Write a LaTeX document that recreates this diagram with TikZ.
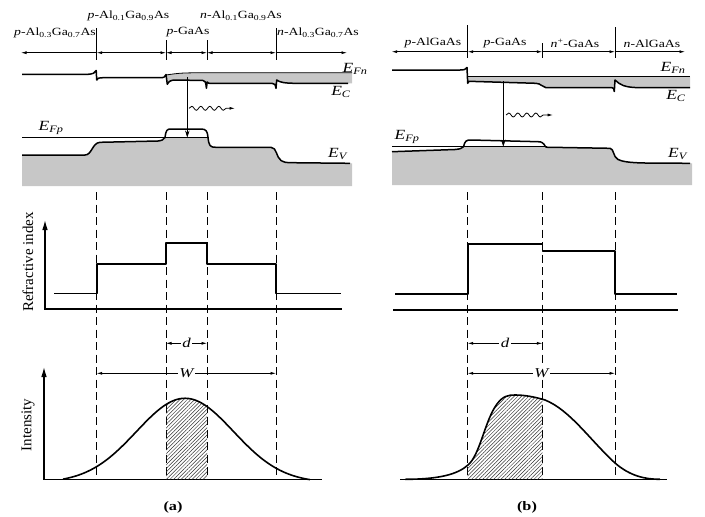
\documentclass[tikz,border=0pt]{standalone}
\usepackage{fontspec}
\setmainfont{Liberation Serif}[FakeStretch=1.25]
\newfontfamily\axisfont{Liberation Serif}
\usetikzlibrary{arrows.meta,decorations.pathmorphing,patterns.meta}
\definecolor{bandgray}{gray}{0.78}

% band edges and profiles, picture units (y runs downwards)
\newcommand{\ecA}{-- (167.3,84.3) .. controls (169,81) and (171,80) .. (176,80) -- (203,80.5) .. controls (205.5,81) .. (206.4,88.3) -- (207.2,82) .. controls (208,83.3) .. (212,83.3) -- (272,83.3) .. controls (275,84) .. (276,88.3) -- (276.7,80) .. controls (280,82.5) and (285,83.3) .. (297,83.3) -- (348,83.3)}
\newcommand{\bumpA}{.. controls (166,130) and (167,129) .. (171,129) -- (201,129) .. controls (206,129) and (207.5,131) .. (208,137.5)}
\newcommand{\evA}{(22,155) -- (85,155) .. controls (92,155) and (92,143) .. (100,142.3) -- (158,141) .. controls (162,140.5) and (163,140) .. (165,137.5) \bumpA .. controls (209,146) and (210,147.3) .. (216,147.3) -- (271,147.3) .. controls (277,147.5) and (276,157) .. (281,160.5) .. controls (285,162.5) .. (292,162.7) -- (350,163.3)}
\newcommand{\ecB}{-- (536,83.3) .. controls (541,83.5) and (542,87) .. (546,87.7) -- (612,87.7) .. controls (613.5,88) .. (614.3,91.5) -- (615,80) .. controls (620,85) and (625,87) .. (635,87.5) -- (690,87.7)}
\newcommand{\bumpB}{.. controls (465,141) and (466,140) .. (471,140) -- (538,141.7) .. controls (542,141.7) and (543.5,143) .. (545.5,146.7)}
\newcommand{\evB}{(392,151.7) -- (455,149.5) .. controls (460,149) and (462,148.5) .. (463.5,146.7) \bumpB .. controls (546.5,147.3) .. (551,147.3) -- (610,148.3) .. controls (614,148.5) and (613,157) .. (618,159.5) .. controls (622,161.5) and (630,162.8) .. (645,163) -- (690,163.3)}
\newcommand{\intB}{(405,479.3) .. controls (440,479.3) and (458,474) .. (468,465) .. controls (480,455) and (485,420) .. (497,404) .. controls (503,396) and (508,395) .. (515,395) .. controls (525,395) and (535,397) .. (545,400) .. controls (570,410) and (590,440) .. (615,463) .. controls (630,476) and (645,479.3) .. (660,479.3)}

\begin{document}
\begin{tikzpicture}[
    x=1pt, y=-1pt,
    >={Latex[length=5.5pt,width=3pt]},
    band/.style={line width=1.5pt, line join=round},
    fermi/.style={line width=0.8pt},
    layer/.style={line width=0.7pt},
    sep/.style={line width=0.9pt},
    lbl/.style={font=\fontsize{11}{13}\selectfont, inner sep=0pt},
    elbl/.style={font=\fontsize{14}{16}\selectfont, inner sep=0pt},
    guide/.style={dash pattern=on 8pt off 4.5pt, line width=1pt},
    profile/.style={line width=1.6pt, line join=round},
    axisline/.style={line width=1.1pt},
    dimline/.style={line width=0.7pt},
    dimlbl/.style={fill=white, inner sep=1.5pt, font=\fontsize{13.5}{15}\selectfont\itshape},
    transition/.style={line width=0.9pt, -{Stealth[length=7pt,width=4.5pt]}},
    wave/.style={->, line width=0.8pt, decorate,
                 decoration={snake, amplitude=2pt, segment length=9pt, post length=7pt}},
    hatch/.style={pattern={Lines[angle=45,distance=2.6pt,line width=0.5pt]}, pattern color=black!80},
    ylbl/.style={rotate=90, font=\axisfont\fontsize{15}{18}\selectfont},
    panel/.style={font=\fontsize{13}{15}\selectfont\bfseries},
]
    \useasboundingbox (0,0) rectangle (705,517);

    % (a) layers
    \foreach \n/\x in {0/21,1/96.7,2/166,3/207,4/276,5/347}
        \coordinate (a\n) at (\x,52.7);
    \draw[layer,<-] (a0) -- (a1);
    \draw[layer,<->] (a1) -- (a2);
    \draw[layer,<->] (a2) -- (a3);
    \draw[layer,<->] (a3) -- (a4);
    \draw[layer,->] (a4) -- (a5);
    \foreach \x/\t in {96.7/28,166/40,207/40,276/28}
        \draw[sep] (\x,\t) -- (\x,60);
    \node[lbl] (la1) at (55,33) {\textit{p}-Al\textsubscript{0.3}Ga\textsubscript{0.7}As};
    \node[lbl] (la2) at (128.5,16) {\textit{p}-Al\textsubscript{0.1}Ga\textsubscript{0.9}As};
    \node[lbl] (la3) at (188,32) {\textit{p}-GaAs};
    \node[lbl] (la4) at (241,16) {\textit{n}-Al\textsubscript{0.1}Ga\textsubscript{0.9}As};
    \node[lbl] (la5) at (318,33) {\textit{n}-Al\textsubscript{0.3}Ga\textsubscript{0.7}As};

    % (a) conduction band
    \fill[bandgray] (166,74.5) \ecA -- (352,83.3) -- (352,72.7) -- (200,72.7) .. controls (180,73) .. (166,75) -- cycle;
    \draw[fermi] (166,75) .. controls (180,73) .. (200,72.7) -- (352,72.7);
    \draw[band] (22,74.3) -- (88,74.3) .. controls (93,74) and (95,73) .. (96.2,70.5) -- (96.7,80) .. controls (98,78) .. (103,77.7) -- (162,77.7) .. controls (164,77.5) .. (166,74.5) \ecA;

    % (a) valence band
    \fill[bandgray] \evA -- (352,163.3) -- (352,186) -- (22,186) -- cycle;
    \fill[white] (165,137.5) \bumpA -- cycle;
    \draw[fermi] (22,137.5) -- (209,137.5);
    \draw[band] \evA;

    % (a) recombination
    \coordinate (upA) at (187.3,77);
    \coordinate (dnA) at (187.3,137.5);
    \draw[transition] (upA) -- (dnA);
    \coordinate (wA1) at (189,108.3);
    \coordinate (wA2) at (235,108.3);
    \draw[wave] (wA1) -- (wA2);

    \node[elbl] (efnA) at (355,69) {\textit{E}\textsubscript{\textit{Fn}}};
    \node[elbl] (ecLA) at (341,92) {\textit{E}\textsubscript{\textit{C}}};
    \node[elbl] (efpA) at (51,128) {\textit{E}\textsubscript{\textit{Fp}}};
    \node[elbl] (evLA) at (338,154) {\textit{E}\textsubscript{\textit{V}}};

    % guides
    \foreach \x in {96.7,166,207,276,467.7,542.3,615}
        \draw[guide] (\x,192) -- (\x,479.3);

    % (a) refractive index
    \draw[axisline, -{Latex[length=10pt,width=5.5pt]}] (341.7,309) -- (45,309) -- (45,220);
    \draw[profile] (54,293.3) -- (96.7,293.3) -- (96.7,264) -- (166,264) -- (166,242.7) -- (207,242.7) -- (207,264) -- (276,264) -- (276,293.3) -- (341,293.3);
    \node[ylbl] (nlbl) at (28,262) {Refractive index};

    % (a) widths
    \coordinate (dA1) at (166,343.3);
    \coordinate (dA2) at (207,343.3);
    \draw[dimline,<->] (dA1) -- node[dimlbl] (dA) {d} (dA2);
    \coordinate (wdA1) at (96.7,373.3);
    \coordinate (wdA2) at (276,373.3);
    \draw[dimline,<->] (wdA1) -- node[dimlbl] (WA) {W} (wdA2);

    % (a) intensity
    \draw[axisline, -{Latex[length=10pt,width=5.5pt]}] (321.7,479.3) -- (44,479.3) -- (44,367);
    \fill[hatch] (166,479.3) -- plot[domain=166:207, samples=20] (\x, {479.3-84.4*(exp(-(\x-185)*(\x-185)/4704.5)-0.04)}) -- (207,479.3) -- cycle;
    \draw[profile] plot[domain=63:310, samples=90] (\x, {479.3-84.4*(exp(-(\x-185)*(\x-185)/4704.5)-0.04)});
    \node[ylbl] (ilbl) at (28,425) {Intensity};
    \node[panel] (capA) at (173,507) {(a)};

    % (b) layers
    \foreach \n/\x in {0/391.7,1/467.7,2/542.3,3/615,4/685}
        \coordinate (b\n) at (\x,51.7);
    \draw[layer,<-] (b0) -- (b1);
    \draw[layer,<->] (b1) -- (b2);
    \draw[layer,->] (b2) -- (b3);
    \draw[layer,->] (b3) -- (b4);
    \foreach \x/\t in {467.7/25,542.3/43,615/27}
        \draw[sep] (\x,\t) -- (\x,58);
    \node[lbl] (lb1) at (433,43.3) {\textit{p}-AlGaAs};
    \node[lbl] (lb2) at (505,43.3) {\textit{p}-GaAs};
    \node[lbl] (lb3) at (575,43.3) {\textit{n}\textsuperscript{+}-GaAs};
    \node[lbl] (lb4) at (652,43.3) {\textit{n}-AlGaAs};

    % (b) conduction band
    \fill[bandgray] (467.7,76.7) -- (467.7,82.5) -- (469,81.3) \ecB -- (690,76.7) -- cycle;
    \draw[fermi] (468,76.7) -- (690,76.7);
    \draw[band] (392,70) -- (460,70) .. controls (464,70) and (466,69.5) .. (467,67.5) -- (467.7,83.3) .. controls (468.2,81.6) .. (469,81.3) \ecB;

    % (b) valence band
    \fill[bandgray] \evB -- (692,163.3) -- (692,185) -- (392,185) -- cycle;
    \fill[white] (463.5,146.7) \bumpB -- cycle;
    \draw[fermi] (392,146.7) -- (546.5,146.7);
    \draw[band] \evB;

    % (b) recombination
    \coordinate (upB) at (503.3,81);
    \coordinate (dnB) at (503.3,146.7);
    \draw[transition] (upB) -- (dnB);
    \coordinate (wB1) at (506,115);
    \coordinate (wB2) at (553,115);
    \draw[wave] (wB1) -- (wB2);

    \node[elbl] (efnB) at (673,67.5) {\textit{E}\textsubscript{\textit{Fn}}};
    \node[elbl] (ecLB) at (676,96) {\textit{E}\textsubscript{\textit{C}}};
    \node[elbl] (efpB) at (407,137) {\textit{E}\textsubscript{\textit{Fp}}};
    \node[elbl] (evLB) at (678,154) {\textit{E}\textsubscript{\textit{V}}};

    % (b) refractive index
    \draw[axisline] (393,310) -- (678,310);
    \draw[profile] (395,294) -- (467.7,294) -- (467.7,244) -- (542.3,244) -- (542.3,251) -- (615,251) -- (615,294) -- (676.7,294);

    % (b) widths
    \coordinate (dB1) at (467.7,343.3);
    \coordinate (dB2) at (542.3,343.3);
    \draw[dimline,<->] (dB1) -- node[dimlbl] (dB) {d} (dB2);
    \coordinate (wdB1) at (467.7,373.3);
    \coordinate (wdB2) at (615,373.3);
    \draw[dimline,<->] (wdB1) -- node[dimlbl] (WB) {W} (wdB2);

    % (b) intensity
    \draw[axisline] (400,479.3) -- (666.7,479.3);
    \begin{scope}
        \clip (467.7,380) rectangle (542.3,479.3);
        \fill[hatch] \intB -- cycle;
    \end{scope}
    \draw[profile] \intB;
    \node[panel] (capB) at (527,507) {(b)};

\end{tikzpicture}
\end{document}
